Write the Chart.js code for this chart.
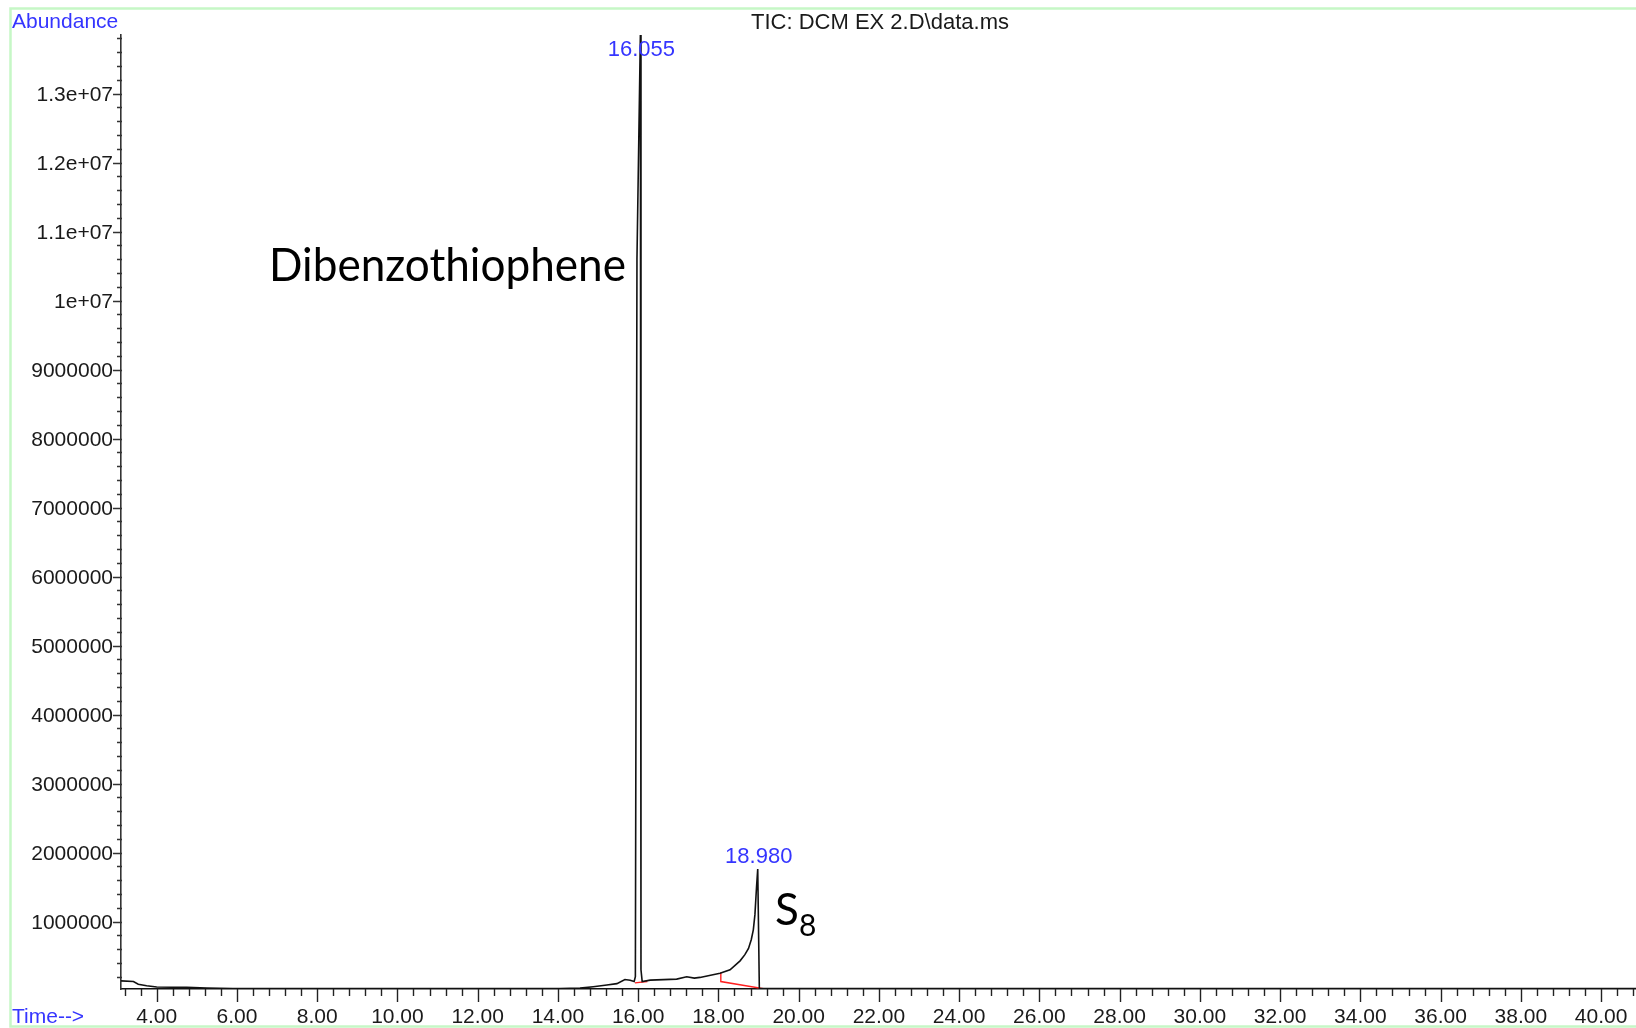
<!DOCTYPE html>
<html>
<head>
<meta charset="utf-8">
<script src="https://cdn.jsdelivr.net/npm/chart.js@4/dist/chart.umd.min.js"></script>
<style>
  html, body { margin: 0; padding: 0; background: #ffffff; }
  canvas { display: block; }
</style>
</head>
<body>
<canvas id="c" width="1636" height="1028"></canvas>
<script>
// ---- data ----
const traceTimes = [3.11, 3.42, 3.54, 3.75, 4.00, 4.75, 5.25, 5.90, 8.00, 10.00, 12.00, 13.00, 14.05, 14.55, 14.88, 15.22, 15.47, 15.67, 15.80, 15.90,
  15.93, 15.97, 16.055, 16.07, 16.10,
  16.30, 16.96, 17.21, 17.40, 17.54, 18.04, 18.29, 18.54, 18.66, 18.75, 18.82, 18.87, 18.91, 18.95, 18.98, 19.02, 20.00, 25.00, 30.00, 35.00, 40.87];
const traceAbund = [140000, 130000, 90000, 70000, 50000, 45000, 35000, 30000, 30000, 30000, 30000, 30000, 28000, 35000, 55000, 80000, 100000, 160000, 150000, 130000,
  200000, 10600000, 13850000, 300000, 130000,
  150000, 165000, 200000, 180000, 190000, 250000, 300000, 430000, 520000, 610000, 740000, 880000, 1100000, 1500000, 1760000, 30000, 28000, 28000, 28000, 28000, 28000];

// integration baselines (red)
const base1Times = [15.92, 16.23];
const base1Abund = [110000, 130000];
const base2Times = [18.06, 18.06, 19.16];
const base2Abund = [260000, 130000, 22000];

// peak labels
const peakTimes = [16.055, 18.980];
const peakAbund = [13850000, 1760000];
const peakLabels = ['16.055', '18.980'];

// axis ticks
const xTickValues = [4, 6, 8, 10, 12, 14, 16, 18, 20, 22, 24, 26, 28, 30, 32, 34, 36, 38, 40];
const xTickLabels = ['4.00', '6.00', '8.00', '10.00', '12.00', '14.00', '16.00', '18.00', '20.00', '22.00', '24.00', '26.00', '28.00', '30.00', '32.00', '34.00', '36.00', '38.00', '40.00'];
const yTickValues = [1000000, 2000000, 3000000, 4000000, 5000000, 6000000, 7000000, 8000000, 9000000, 10000000, 11000000, 12000000, 13000000];
const yTickLabels = ['1000000', '2000000', '3000000', '4000000', '5000000', '6000000', '7000000', '8000000', '9000000', '1e+07', '1.1e+07', '1.2e+07', '1.3e+07'];

const titleText = 'TIC: DCM EX 2.D\\data.ms';
const yAxisName = 'Abundance';
const xAxisName = 'Time-->';
const annotDBT = 'Dibenzothiophene';

function pts(xs, ys) { return xs.map((x, i) => ({ x: x, y: ys[i] })); }

const ARIAL = '"Liberation Sans", Arial, sans-serif';
const BLUE = '#3535ff';

const decorPlugin = {
  id: 'decor',
  beforeDraw(chart) {
    const ctx = chart.ctx;
    ctx.save();
    ctx.fillStyle = '#ffffff';
    ctx.fillRect(0, 0, chart.width, chart.height);
    ctx.strokeStyle = '#c6f7c6';
    ctx.lineWidth = 2.5;
    ctx.strokeRect(10.5, 8.5, 1700, 1018);
    ctx.restore();
  },
  afterDraw(chart) {
    const ctx = chart.ctx;
    const xs = chart.scales.x, ys = chart.scales.y;
    const area = chart.chartArea;
    ctx.save();
    // y ticks
    ctx.strokeStyle = '#333';
    ctx.lineWidth = 1.4;
    ctx.beginPath();
    for (let k = 1; k * 200000 <= ys.max; k++) {
      const v = k * 200000;
      const p = Math.round(ys.getPixelForValue(v)) + 0.5;
      const major = (k % 5 === 0);
      ctx.moveTo(major ? area.left - 8 : area.left - 4, p);
      ctx.lineTo(area.left + 1, p);
    }
    ctx.stroke();
    // x ticks
    ctx.strokeStyle = '#222';
    ctx.beginPath();
    for (let k = 8; k <= 102; k++) {
      const v = k * 0.4;
      if (v < xs.min || v > xs.max) continue;
      const p = Math.round(xs.getPixelForValue(v)) + 0.5;
      const major = (k % 5 === 0);
      ctx.moveTo(p, area.bottom);
      ctx.lineTo(p, area.bottom + (major ? 13 : 7));
    }
    ctx.stroke();

    // axis names
    ctx.fillStyle = BLUE;
    ctx.font = '21px ' + ARIAL;
    ctx.textAlign = 'left';
    ctx.textBaseline = 'alphabetic';
    ctx.fillText(yAxisName, 12, 28);
    ctx.fillText(xAxisName, 12, 1023);

    // title
    ctx.fillStyle = '#1a1a1a';
    ctx.font = '22px ' + ARIAL;
    ctx.textAlign = 'center';
    ctx.fillText(titleText, 880, 29);

    // peak labels
    ctx.fillStyle = BLUE;
    ctx.font = '22px ' + ARIAL;
    peakTimes.forEach((t, i) => {
      const px = xs.getPixelForValue(t);
      const py = Math.max(ys.getPixelForValue(peakAbund[i]) - 6, area.top + 21);
      ctx.fillText(peakLabels[i], px + 1, py);
    });

    // annotations
    ctx.fillStyle = '#000';
    ctx.font = '47px Lato, "Open Sans", sans-serif';
    ctx.textAlign = 'left';
    ctx.fillText(annotDBT, 269, 281, 357);
    ctx.font = '44px Lato, "Open Sans", sans-serif';
    ctx.fillText('S', 775, 925);
    ctx.font = '30px Lato, "Open Sans", sans-serif';
    ctx.fillText('8', 799, 936);
    ctx.restore();
  }
};

new Chart(document.getElementById('c'), {
  type: 'scatter',
  data: {
    datasets: [
      { data: pts(traceTimes, traceAbund), showLine: true, borderColor: '#111', borderWidth: 1.6, pointRadius: 0, tension: 0 },
      { data: pts(base1Times, base1Abund), showLine: true, borderColor: '#ff2020', borderWidth: 1.4, pointRadius: 0, tension: 0 },
      { data: pts(base2Times, base2Abund), showLine: true, borderColor: '#ff2020', borderWidth: 1.4, pointRadius: 0, tension: 0 }
    ]
  },
  options: {
    responsive: false,
    animation: false,
    devicePixelRatio: 1,
    layout: { padding: { top: 35, right: 0, left: 0, bottom: 0 } },
    plugins: { legend: { display: false }, tooltip: { enabled: false } },
    scales: {
      x: {
        type: 'linear', min: 3.11, max: 40.87,
        afterBuildTicks: s => { s.ticks = xTickValues.map(v => ({ value: v })); },
        afterFit: s => { s.height = 39; s.paddingLeft = 0; s.paddingRight = 0; },
        grid: { display: false, drawTicks: false },
        border: { display: true, color: '#111', width: 1.6 },
        ticks: {
          autoSkip: false, maxRotation: 0, padding: 16,
          color: '#1a1a1a', font: { family: ARIAL, size: 21 },
          callback: (v) => xTickLabels[xTickValues.indexOf(v)]
        }
      },
      y: {
        type: 'linear', min: 22000, max: 13850000,
        afterBuildTicks: s => { s.ticks = yTickValues.map(v => ({ value: v })); },
        afterFit: s => { s.width = 121; s.paddingTop = 0; s.paddingBottom = 0; },
        grid: { display: false, drawTicks: false },
        border: { display: true, color: '#333', width: 1.6 },
        ticks: {
          autoSkip: false, padding: 8, labelOffset: 2,
          color: '#1a1a1a', font: { family: ARIAL, size: 21 },
          callback: (v) => yTickLabels[yTickValues.indexOf(v)]
        }
      }
    }
  },
  plugins: [decorPlugin]
});
</script>
</body>
</html>
